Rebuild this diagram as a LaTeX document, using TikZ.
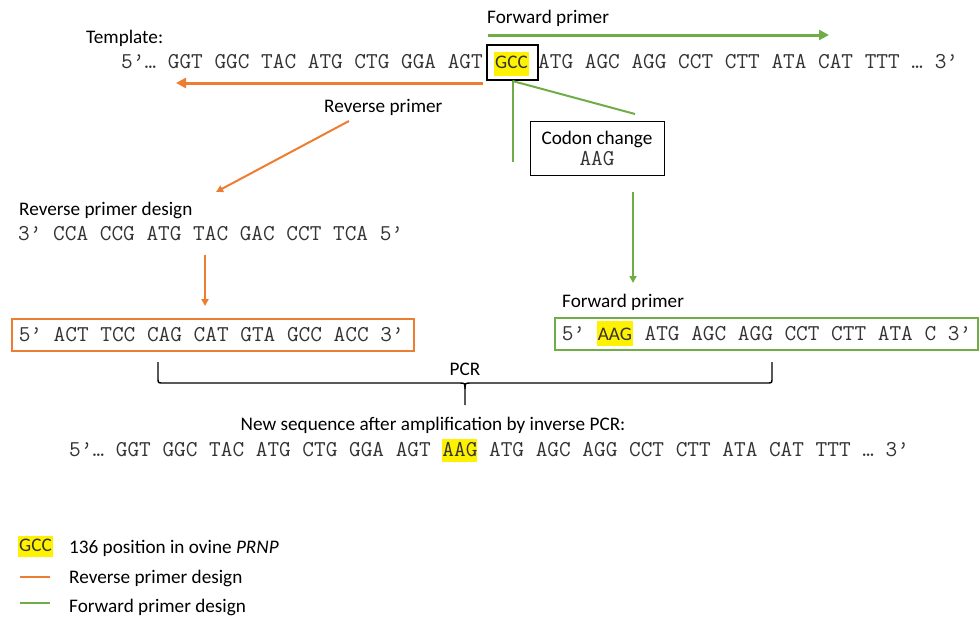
\documentclass[tikz,border=0pt]{standalone}
\usepackage{fontspec}
\setmainfont{Carlito}
\usetikzlibrary{arrows.meta}
\definecolor{org}{HTML}{ED7D31}
\definecolor{grn}{HTML}{70AD47}
\definecolor{seqgray}{HTML}{333333}
\newcommand\hlmono[1]{{\setlength{\fboxsep}{0pt}\colorbox{yellow}{\rule[-6pt]{0pt}{23pt}#1}}}
\newcommand\hlsans[1]{{\setlength{\fboxsep}{0pt}\colorbox{yellow}{\rule[-6pt]{0pt}{25pt}\hspace{1pt}{\rmfamily\fontsize{19.2}{23}\selectfont #1}\hspace{1pt}}}}
\begin{document}
\begin{tikzpicture}[x=1pt,y=-1pt,
  sans/.style={inner sep=0pt, font=\fontsize{19.2}{23}\selectfont, anchor=base west},
  mono/.style={inner sep=0pt, font=\ttfamily\fontsize{22.65}{24}\selectfont, text=seqgray, anchor=base west},
  hlnode/.style={fill=yellow, inner sep=0pt, font=\fontsize{19.2}{23}\selectfont, text=seqgray, anchor=base},
  seqbox/.style={mono, anchor=north west, inner xsep=7pt, inner ysep=0pt, minimum height=32pt, text height=13pt, text depth=0pt, line width=1.5pt},
  thickarrow/.style={line width=3pt, -{Triangle[length=10pt,width=10pt]}},
  thinarrow/.style={line width=2pt, -{Triangle[length=7pt,width=7pt]}},
  thinline/.style={line width=2pt},
  legline/.style={line width=2.5pt}
]
\useasboundingbox (0,0) rectangle (980,616);

% top area
\node[sans] (template) at (86,43) {Template:};
\node[sans] (fwdlbl) at (487,23) {Forward primer};
\node[mono] (seqL) at (121,68) {5’… GGT GGC TAC ATG CTG GGA AGT};
\node[draw=black, line width=2pt, minimum width=51pt, minimum height=35pt, inner sep=0pt] (gccbox) at (512.5,62.5) {};
\node[hlnode, minimum width=35pt, text height=16pt, text depth=8pt] (gcc) at (511.5,68) {GCC};
\node[mono] (seqR) at (538,68) {ATG AGC AGG CCT CTT ATA CAT TTT … 3’};

\coordinate (fa1) at (488,35);
\coordinate (fa2) at (829,35);
\draw[grn, thickarrow] (fa1) -- (fa2);

\coordinate (ra1) at (483,83);
\coordinate (ra2) at (176,83);
\draw[org, thickarrow] (ra1) -- (ra2);

\node[sans] (revlbl) at (324,112) {Reverse primer};
\coordinate (rd1) at (349,121);
\coordinate (rd2) at (216,192);
\draw[org, thinarrow] (rd1) -- (rd2);

% codon change
\coordinate (gv) at (512.5,162);
\coordinate (gd) at (635,114);
\draw[grn, thinline] (gccbox.south) -- (gv);
\draw[grn, thinline] (gccbox.south) -- (gd);
\node[draw=black, line width=1pt, minimum width=134pt, minimum height=54pt, inner sep=0pt, align=center, font=\fontsize{19.2}{21}\selectfont] (codon) at (597,148) {Codon change\\{\ttfamily\fontsize{22.65}{21}\selectfont\color{seqgray}AAG}};

\coordinate (ga1) at (633,192);
\coordinate (ga2) at (633,283);
\draw[grn, thinarrow] (ga1) -- (ga2);

% reverse primer design
\node[sans] (revdes) at (19,215) {Reverse primer design};
\node[mono] (revseq) at (18,240) {3’ CCA CCG ATG TAC GAC CCT TCA 5’};
\coordinate (oa1) at (205,255);
\coordinate (oa2) at (205,306);
\draw[org, thinarrow] (oa1) -- (oa2);
\node[seqbox, draw=org] (revbox) at (11,318) {\makebox[388pt][l]{5’ ACT TCC CAG CAT GTA GCC ACC 3’}};

% forward primer design
\node[sans] (fwddes) at (562,307) {Forward primer};
\node[seqbox, draw=grn] (fwdbox) at (554,317) {\makebox[409pt][l]{5’ \hlsans{AAG} ATG AGC AGG CCT CTT ATA C 3’}};

% brace
\draw[line width=1.4pt] (158,362) -- (158,378) .. controls (158,383) .. (163,383) -- (459,383) .. controls (465,383) .. (465,389) -- (465,405);
\draw[line width=1.4pt] (772,362) -- (772,378) .. controls (772,383) .. (767,383) -- (471,383) .. controls (465,383) .. (465,389);
\node[sans, anchor=base] (pcr) at (465,375) {PCR};

% new sequence
\node[sans, anchor=base] (newlbl) at (433,430) {New sequence after amplification by inverse PCR:};
\node[mono] (newseq) at (69,456) {5’… GGT GGC TAC ATG CTG GGA AGT \hlmono{AAG} ATG AGC AGG CCT CTT ATA CAT TTT … 3’};

% legend
\node[hlnode, minimum width=35pt, text height=15pt, text depth=6pt] (leggcc) at (35.5,551) {GCC};
\node[sans] (leg1) at (69,553) {136 position in ovine \textit{PRNP}};
\coordinate (lo1) at (20,577);
\coordinate (lo2) at (50,577);
\draw[org, legline] (lo1) -- (lo2);
\node[sans] (leg2) at (69,583) {Reverse primer design};
\coordinate (lg1) at (20,603);
\coordinate (lg2) at (50,603);
\draw[grn, legline] (lg1) -- (lg2);
\node[sans] (leg3) at (69,612) {Forward primer design};
\end{tikzpicture}
\end{document}
